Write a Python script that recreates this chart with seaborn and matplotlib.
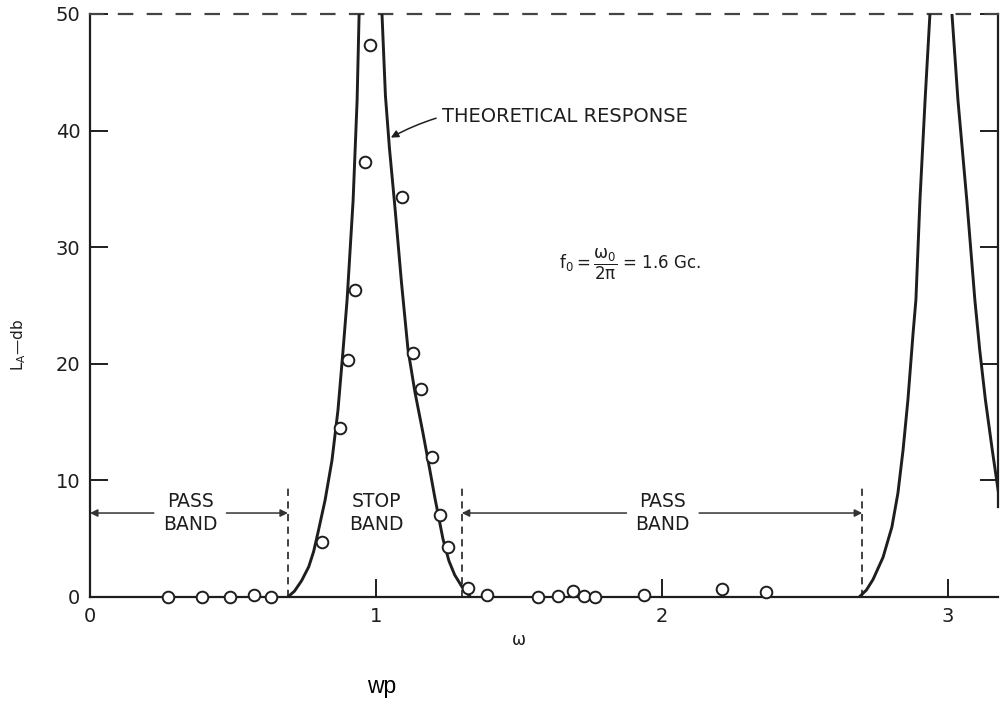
"""
plot.py
-------
Band-stop filter response: measured attenuation (circles) against the
theoretical response curve, redrawn from an old scanned figure.
Output: out.png (1000 x 702 px)
"""

import pandas as pd
import matplotlib
matplotlib.use("Agg")
import matplotlib.pyplot as plt
import seaborn as sns

sns.set_style("white")
plt.rcParams["font.family"] = ["DejaVu Sans"]
plt.rcParams["mathtext.fontset"] = "dejavusans"

INK = "#1e1e1e"

# -------------------------------------------------------------------------
# DATA
# -------------------------------------------------------------------------
# theoretical response, one list per branch (each stops at the 50 db frame)
p1_left_w = [0.692, 0.715, 0.740, 0.765, 0.782, 0.797, 0.822, 0.846, 0.867, 0.885, 0.899, 0.920, 0.934, 0.941]
p1_left_L = [0.0, 0.5, 1.4, 2.6, 3.9, 5.5, 8.3, 11.7, 16.0, 21.2, 25.5, 34.0, 42.6, 50.0]
p1_right_w = [1.021, 1.033, 1.047, 1.066, 1.089, 1.112, 1.136, 1.164, 1.189, 1.206, 1.234, 1.255, 1.275, 1.301, 1.330]
p1_right_L = [50.0, 43.0, 38.5, 33.5, 27.0, 21.2, 17.6, 14.1, 10.8, 8.5, 5.0, 3.1, 1.9, 0.86, 0.0]
p2_left_w = [2.690, 2.715, 2.738, 2.773, 2.804, 2.825, 2.843, 2.860, 2.878, 2.888, 2.902, 2.920, 2.937]
p2_left_L = [0.0, 0.6, 1.5, 3.4, 6.0, 8.9, 12.6, 16.9, 22.6, 25.5, 34.0, 42.6, 50.0]
p2_right_w = [3.014, 3.035, 3.066, 3.094, 3.111, 3.131, 3.155, 3.184]
p2_right_L = [50.0, 42.6, 34.0, 25.5, 21.2, 16.9, 12.6, 7.7]

# measured points
meas_w = [0.273, 0.391, 0.490, 0.574, 0.632, 0.810, 0.874, 0.903, 0.927, 0.962,
          0.979, 1.090, 1.130, 1.156, 1.195, 1.224, 1.253, 1.323, 1.389, 1.568,
          1.638, 1.688, 1.727, 1.766, 1.937, 2.209, 2.364]
meas_L = [0.0, 0.0, 0.0, 0.15, 0.0, 4.7, 14.5, 20.3, 26.3, 37.3,
          47.3, 34.3, 20.9, 17.8, 12.0, 7.0, 4.3, 0.8, 0.2, 0.0,
          0.1, 0.5, 0.1, 0.0, 0.2, 0.7, 0.4]

# band edges and labels
pass_bands = [(0.0, 0.692), (1.30, 2.70)]
band_edges = [0.692, 1.30, 2.70]
band_labels = ["PASS\nBAND", "STOP\nBAND", "PASS\nBAND"]
band_label_w = [0.35, 1.003, 2.003]

x_ticks = [0, 1, 2, 3]
y_ticks = [0, 10, 20, 30, 40, 50]

curve = pd.concat([
    pd.DataFrame({"w": p1_left_w, "L": p1_left_L, "seg": "p1_left"}),
    pd.DataFrame({"w": p1_right_w, "L": p1_right_L, "seg": "p1_right"}),
    pd.DataFrame({"w": p2_left_w, "L": p2_left_L, "seg": "p2_left"}),
    pd.DataFrame({"w": p2_right_w, "L": p2_right_L, "seg": "p2_right"}),
], ignore_index=True)
meas = pd.DataFrame({"w": meas_w, "L": meas_L})

# -------------------------------------------------------------------------
# PLOT
# -------------------------------------------------------------------------
fig = plt.figure(figsize=(10, 7.02), dpi=100)
ax = fig.add_axes([0.090, 0.1496, 0.908, 0.8305])

sns.lineplot(data=curve, x="w", y="L", units="seg", estimator=None, sort=False,
             color=INK, lw=2.1, legend=False, ax=ax, zorder=3)
sns.scatterplot(data=meas, x="w", y="L", marker="o", s=70, facecolor="white",
                edgecolor=INK, linewidth=1.4, clip_on=False, zorder=5, ax=ax)

ax.set_xlim(0, 3.175)
ax.set_ylim(0, 50)
ax.set_xticks(x_ticks)
ax.set_yticks(y_ticks)
ax.tick_params(axis="both", direction="in", length=13, width=1.4, colors=INK, labelsize=14)
ax.tick_params(axis="x", pad=7, bottom=True, top=False)
ax.tick_params(axis="y", pad=7, left=True, right=True, labelright=False)

for side in ["left", "bottom", "right", "top"]:
    ax.spines[side].set_color(INK)
    ax.spines[side].set_linewidth(1.6)
ax.spines["top"].set_linestyle((0, (6, 7)))
ax.spines["top"].set_color("#444444")
ax.spines["right"].set_bounds(7.7, 50)

ax.set_xlabel("ω", fontsize=12, color=INK)
ax.xaxis.set_label_coords(0.472, -0.058)
ax.set_ylabel(r"$\mathregular{L_A}$—db", fontsize=11, color=INK)
ax.yaxis.set_label_coords(-0.068, 0.432)

# band edge markers and arrows
ax.vlines(band_edges, 0, 9.6, colors="#333333", linestyles=(0, (4, 3)), lw=1.3)
gap = 0.127
for (lo, hi), cx in zip(pass_bands, [band_label_w[0], band_label_w[2]]):
    for start, end in [(cx - gap, lo), (cx + gap, hi)]:
        ax.annotate("", xy=(end, 7.2), xytext=(start, 7.2),
                    arrowprops=dict(arrowstyle="-|>", color="#333333", lw=1.1,
                                    mutation_scale=11, shrinkA=0, shrinkB=0))
for lab, cx in zip(band_labels, band_label_w):
    ax.text(cx, 7.2, lab, ha="center", va="center", fontsize=13.5,
            linespacing=1.3, color=INK)

ax.annotate("THEORETICAL RESPONSE", xy=(1.052, 39.4), xytext=(1.231, 41.2),
            ha="left", va="center", fontsize=14, color=INK,
            arrowprops=dict(arrowstyle="-|>", color=INK, lw=1.1, mutation_scale=11,
                            connectionstyle="arc3,rad=0.2", shrinkA=2, shrinkB=0))

ax.text(1.89, 28.5, r"$\mathregular{f_0 = \dfrac{\omega_0}{2\pi}}$ = 1.6 Gc.",
        ha="center", va="center", fontsize=12, color=INK)

fig.text(0.382, 1 - 693 / 702, "wp", family="Liberation Sans", fontsize=16.5,
         ha="center", va="baseline", color="black")

fig.savefig("out.png", dpi=100, facecolor="white")
